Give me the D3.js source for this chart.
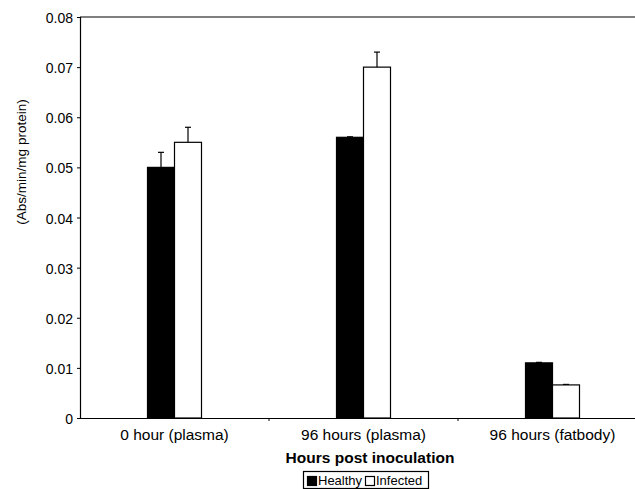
<!DOCTYPE html>
<html>
<head>
<meta charset="utf-8">
<script src="https://cdn.jsdelivr.net/npm/d3@7"></script>
<style>
  body { margin: 0; background: #fff; }
  text { font-family: "Liberation Sans", Arial, sans-serif; fill: #000; }
</style>
</head>
<body>
<div id="chart"></div>
<script>
// data
const categories = ['0 hour (plasma)', '96 hours (plasma)', '96 hours (fatbody)'];
const series = ['Healthy', 'Infected'];
const healthy = [0.050, 0.056, 0.011];
const infected = [0.055, 0.070, 0.0066];
const healthyErr = [0.003, 0.0001, 0.0001];
const infectedErr = [0.003, 0.003, 0.0001];
const yTicks = [0, 0.01, 0.02, 0.03, 0.04, 0.05, 0.06, 0.07, 0.08];

// constants
const WIDTH = 635;
const HEIGHT = 489;
const PLOT = {left: 80, right: 647, top: 17, bottom: 418};
const BAR_W = 27;

const svg = d3.select('#chart')
              .append('svg')
              .attr('width', WIDTH)
              .attr('height', HEIGHT);

const xScale = d3.scaleBand()
                 .domain(categories)
                 .range([PLOT.left, PLOT.right]);

const yScale = d3.scaleLinear()
                 .domain([0, 0.08])
                 .range([PLOT.bottom, PLOT.top]);

const sub = d3.scaleBand()
              .domain(series)
              .range([-BAR_W, BAR_W]);

// top border
svg.append('line')
   .attr('x1', PLOT.left).attr('x2', PLOT.right)
   .attr('y1', PLOT.top).attr('y2', PLOT.top)
   .attr('stroke', '#000').attr('stroke-width', 1.2);

// y axis
const yAxis = svg.append('g')
   .attr('transform', 'translate(' + PLOT.left + ',0)')
   .call(d3.axisLeft(yScale).tickValues(yTicks).tickSize(3).tickPadding(4)
           .tickFormat(d => d === 0 ? '0' : d3.format('.2f')(d)));
yAxis.select('.domain').attr('stroke-width', 1.2);
yAxis.selectAll('text').attr('font-size', '14px')
     .attr('dy', '0.4em')
     .attr('font-family', '"Liberation Sans", Arial, sans-serif');

// x axis
const xAxis = svg.append('g')
   .attr('transform', 'translate(0,' + PLOT.bottom + ')')
   .call(d3.axisBottom(xScale).tickSize(0).tickPadding(0).tickFormat(''));
xAxis.select('.domain').attr('stroke-width', 1.2);

// tick marks between categories
svg.selectAll('.xtick')
   .data(categories.slice(1))
   .enter()
   .append('line')
   .attr('x1', d => xScale(d)).attr('x2', d => xScale(d))
   .attr('y1', PLOT.bottom).attr('y2', PLOT.bottom + 3)
   .attr('stroke', '#000');

// category labels
svg.selectAll('.catLabel')
   .data(categories)
   .enter()
   .append('text')
   .attr('x', d => xScale(d) + xScale.bandwidth() / 2)
   .attr('y', 440)
   .attr('text-anchor', 'middle')
   .attr('font-size', '15.5px')
   .text(d => d);

// bars
const rows = [];
categories.forEach((c, i) => {
    rows.push({cat: c, s: 'Healthy', v: healthy[i], e: healthyErr[i]});
    rows.push({cat: c, s: 'Infected', v: infected[i], e: infectedErr[i]});
});

svg.selectAll('.bar')
   .data(rows)
   .enter()
   .append('rect')
   .attr('x', d => xScale(d.cat) + xScale.bandwidth() / 2 + sub(d.s))
   .attr('y', d => yScale(d.v))
   .attr('width', BAR_W)
   .attr('height', d => yScale(0) - yScale(d.v))
   .attr('fill', d => d.s === 'Healthy' ? '#000' : '#fff')
   .attr('stroke', '#000')
   .attr('stroke-width', 1.2);

// error bars (upper only)
const cx = d => xScale(d.cat) + xScale.bandwidth() / 2 + sub(d.s) + BAR_W / 2;
svg.selectAll('.errLine')
   .data(rows)
   .enter()
   .append('line')
   .attr('x1', cx).attr('x2', cx)
   .attr('y1', d => yScale(d.v)).attr('y2', d => yScale(d.v + d.e))
   .attr('stroke', '#000').attr('stroke-width', 1.2);
svg.selectAll('.errCap')
   .data(rows)
   .enter()
   .append('line')
   .attr('x1', d => cx(d) - 3).attr('x2', d => cx(d) + 3)
   .attr('y1', d => yScale(d.v + d.e)).attr('y2', d => yScale(d.v + d.e))
   .attr('stroke', '#000').attr('stroke-width', 1.2);

// axis titles
svg.append('text')
   .attr('transform', 'translate(26,162) rotate(-90)')
   .attr('text-anchor', 'middle')
   .attr('font-size', '13.5px')
   .text('(Abs/min/mg protein)');

svg.append('text')
   .attr('x', 370)
   .attr('y', 463)
   .attr('text-anchor', 'middle')
   .attr('font-size', '15.5px')
   .attr('font-weight', 'bold')
   .text('Hours post inoculation');

// legend
const legend = svg.append('g');
legend.append('rect')
      .attr('x', 303.5).attr('y', 471.5)
      .attr('width', 125).attr('height', 17)
      .attr('fill', '#fff').attr('stroke', '#000').attr('stroke-width', 1.2);
const legItems = [
    {s: 'Healthy', x: 307, fill: '#000'},
    {s: 'Infected', x: 365, fill: '#fff'}
];
legend.selectAll('.legBox')
      .data(legItems)
      .enter()
      .append('rect')
      .attr('x', d => d.x + 0.5).attr('y', 476.5)
      .attr('width', 9).attr('height', 9)
      .attr('fill', d => d.fill)
      .attr('stroke', '#000').attr('stroke-width', 1.2);
legend.selectAll('.legText')
      .data(legItems)
      .enter()
      .append('text')
      .attr('x', d => d.x + 11)
      .attr('y', 485)
      .attr('font-size', '13px')
      .text(d => d.s);
</script>
</body>
</html>
